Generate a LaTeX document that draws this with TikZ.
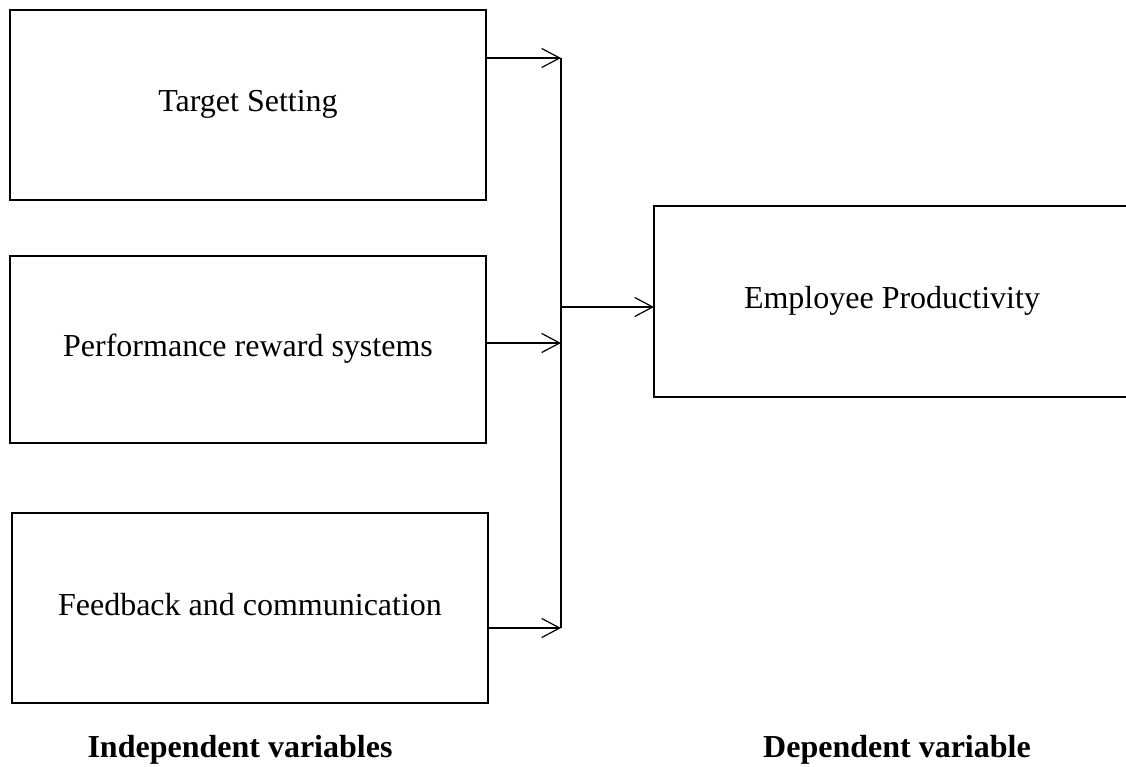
\documentclass[tikz,border=0pt]{standalone}
\usepackage{fontspec}
\setmainfont{Liberation Serif}
\usetikzlibrary{arrows.meta}
\usetikzlibrary{positioning}

\begin{document}
\begin{tikzpicture}[
					x=1pt, y=-1pt,
					line width=1.2pt,
					font=\fontsize{32}{38}\selectfont,
					box/.style={draw, line width=2.6pt, outer sep=0pt, inner sep=0pt,
						minimum width=476pt, minimum height=190pt,
						text height=21pt, text depth=7pt},
					arrow/.style={-{Straight Barb[length=18pt,width=19pt]}},
					caption/.style={font=\fontsize{32}{38}\selectfont\bfseries},
				]
					\clip (0,0) rectangle (1126,767);
					\node (target) [box] at (248,105) {Target Setting};
					\node (reward) [box, minimum height=187pt, below=56pt of target] {Performance reward systems};
					\node (feedb) [box, below=70pt of reward, xshift=2pt] {Feedback and communication};
					\node (prod) [box, minimum height=191pt] at (892,301.5) {Employee Productivity};
					
					\node (indep) [caption] at (240,750) {Independent variables};
					\node (dep) [caption] at (897,750) {Dependent variable};
					
					\coordinate (jtop) at (561,58);
					\coordinate (jmid) at (561,343);
					\coordinate (jbot) at (561,628);
					\coordinate (join) at (561,307);
					
					\draw (jtop) -- (jbot);
					\draw[arrow] (jtop -| target.east) -- (jtop);
					\draw[arrow] (jmid -| reward.east) -- (jmid);
					\draw[arrow] (jbot -| feedb.east) -- (jbot);
					\draw[arrow] (join) -- (join -| prod.west);
				\end{tikzpicture}
\end{document}
